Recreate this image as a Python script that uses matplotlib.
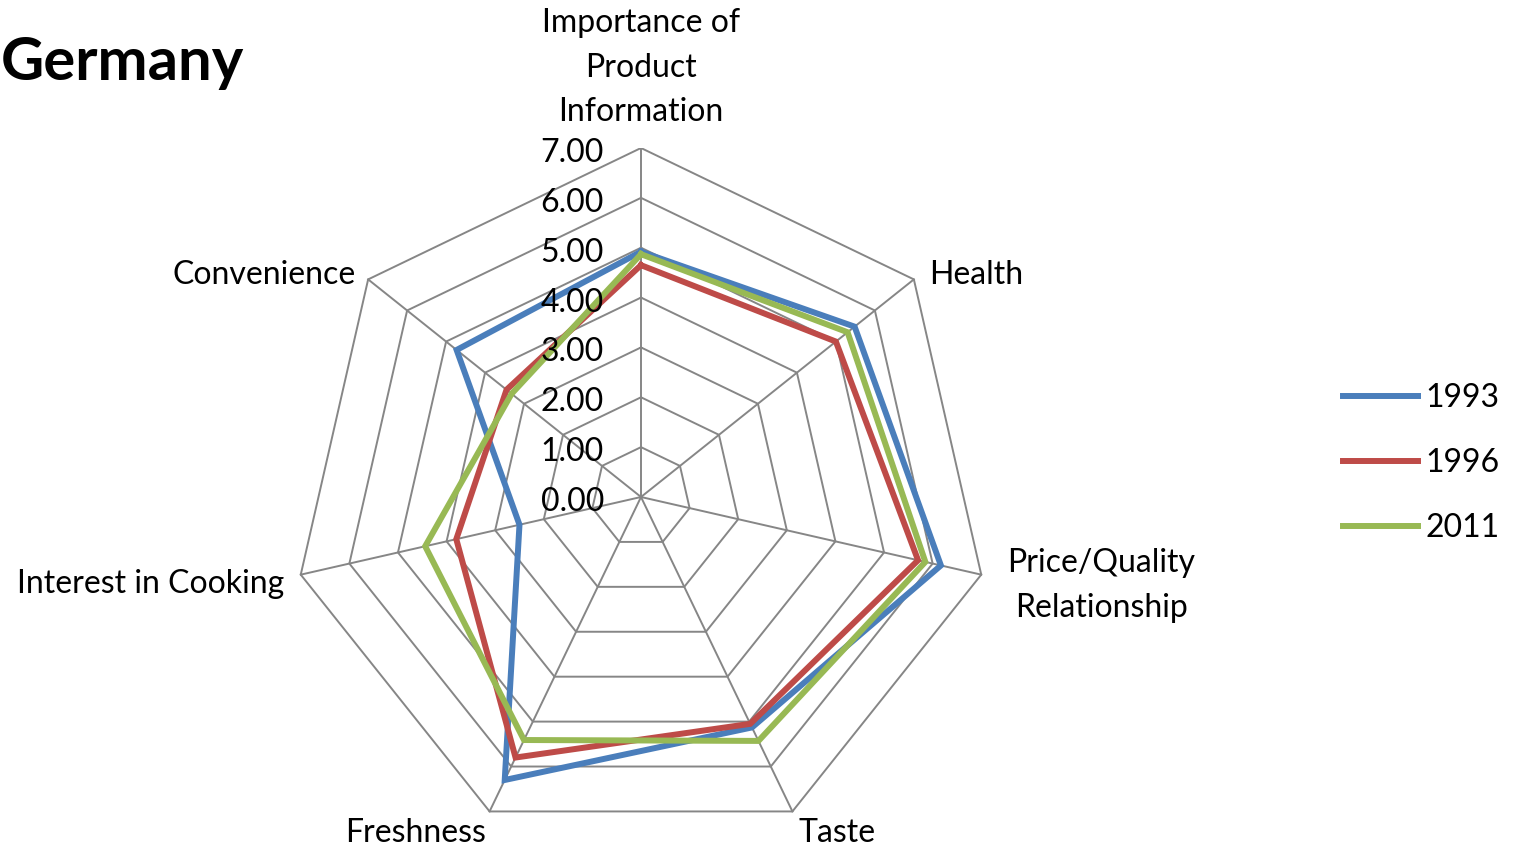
import numpy as np
import matplotlib.pyplot as plt

plt.rcParams['font.family'] = ['Lato', 'DejaVu Sans']

# data, axes run clockwise from the top
categories = ["Importance of\nProduct\nInformation", "Health", "Price/Quality\nRelationship",
              "Taste", "Freshness", "Interest in Cooking", "Convenience"]
years = ["1993", "1996", "2011"]
values_1993 = [4.92, 5.48, 6.17, 5.13, 6.30, 2.50, 4.73]
values_1996 = [4.65, 5.00, 5.70, 5.05, 5.80, 3.80, 3.45]
values_2011 = [4.87, 5.30, 5.85, 5.43, 5.41, 4.44, 3.32]
ticks = [0, 1, 2, 3, 4, 5, 6, 7]

colors = ["#4A7EBB", "#BE4B48", "#98B954"]
grid_color = "#868686"
fs = 23

# label placement: offset in pixels from the outer vertex, alignment
label_layout = [
    ((0, 21), 'center', 'bottom'),
    ((15, 4), 'left', 'center'),
    ((26, -11), 'left', 'center'),
    ((6, -22), 'left', 'center'),
    ((-4, -22), 'right', 'center'),
    ((-17, -9), 'right', 'center'),
    ((-12, 4), 'right', 'center'),
]

n = len(categories)
theta = np.pi / 2 - np.arange(n) * 2 * np.pi / n


def to_xy(vals):
    vals = np.asarray(vals, dtype=float)
    x = vals * np.cos(theta)
    y = vals * np.sin(theta)
    return np.append(x, x[0]), np.append(y, y[0])


fig = plt.figure(figsize=(15.16, 8.46), dpi=100)
rmax = ticks[-1]
ax = fig.add_axes([292 / 1516, 0.0, 698 / 1516, 698 / 846])
ax.set_xlim(-rmax, rmax)
ax.set_ylim(-rmax, rmax)
ax.set_aspect('equal')
ax.axis('off')

# heptagon grid
for t in ticks[1:]:
    gx, gy = to_xy([t] * n)
    ax.plot(gx, gy, color=grid_color, lw=1.4, zorder=1)
for th in theta:
    ax.plot([0, rmax * np.cos(th)], [0, rmax * np.sin(th)], color=grid_color, lw=1.4, zorder=1)

# series
for vals, year, c in zip([values_1993, values_1996, values_2011], years, colors):
    sx, sy = to_xy(vals)
    ax.plot(sx, sy, color=c, lw=4.3, label=year, zorder=3, solid_joinstyle='miter')

# radial tick labels on the top axis
for t in ticks:
    ax.annotate(f"{t:.2f}", xy=(0, t), xytext=(-37, -5), textcoords='offset pixels',
                ha='right', va='center', fontsize=fs, zorder=5, annotation_clip=False)

# category labels
for i, (lab, (off, ha, va)) in enumerate(zip(categories, label_layout)):
    ax.annotate(lab, xy=(rmax * np.cos(theta[i]), rmax * np.sin(theta[i])), xytext=off,
                textcoords='offset pixels', ha=ha, va=va, multialignment='center',
                fontsize=fs, linespacing=1.6, annotation_clip=False)

fig.text(1 / 1516, 1 - 80 / 846, "Germany", fontsize=43, fontweight='bold',
         ha='left', va='baseline')

ax.legend(loc='center left', bbox_to_anchor=(1343 / 1516, 1 - 463 / 846),
          bbox_transform=fig.transFigure, frameon=False, fontsize=fs,
          handlelength=2.35, handletextpad=0.22, labelspacing=1.1,
          borderpad=0, borderaxespad=0)

fig.savefig("out.png", dpi=100)
